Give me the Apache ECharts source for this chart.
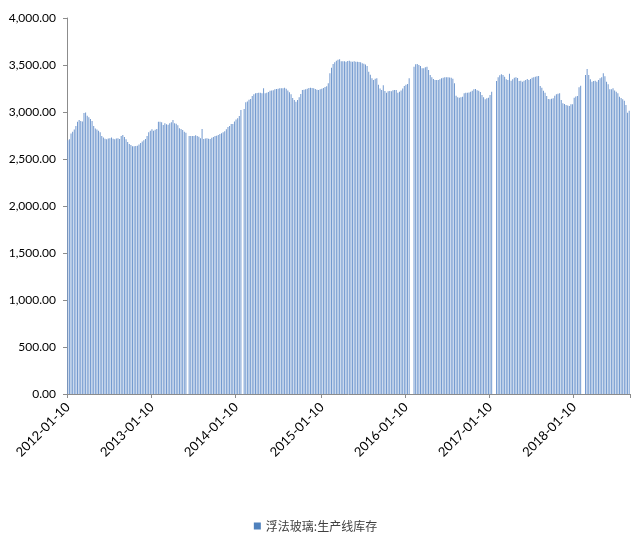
<!DOCTYPE html>
<html>
<head>
<meta charset="utf-8">
<script src="https://cdn.jsdelivr.net/npm/echarts@6/dist/echarts.min.js"></script>
<style>
html,body{margin:0;padding:0;background:#fff;}
#chart{width:631px;height:534px;}
</style>
</head>
<body>
<div id="chart"></div>
<script>
// Weekly observations starting 2012-01-10
const startDate = '2012-01-10';
const seriesName = '浮法玻璃:生产线库存';
const tickLabels = ['2012-01-10','2013-01-10','2014-01-10','2015-01-10','2016-01-10','2017-01-10','2018-01-10'];
const yTicks = [0, 500, 1000, 1500, 2000, 2500, 3000, 3500, 4000];

const values2012 = [2700,2710,2770,2790,2815,2850,2895,2915,2905,2900,2990,2995,2960,2945,2925,2905,2850,2825,2815,2800,2785,2745,2730,2715,2710,2718,2722,2730,2715,2709,2718,2720,2713,2745,2755,2735,2709,2680,2660,2649,2636,2635,2638,2640,2655,2670,2685,2700,2712,2745,2785,2800];
const values2013 = [2816,2801,2810,2820,2895,2897,2890,2862,2879,2870,2865,2879,2890,2915,2879,2875,2860,2826,2820,2809,2790,2780,null,2745,2745,2745,2745,2752,2745,2738,2720,2819,2713,2718,2720,2716,2713,2725,2735,2745,2748,2755,2766,2773,2785,2795,2816,2840,2851,2872,2872,2900];
const values2014 = [2920,2933,2957,3021,null,3032,3103,3113,3130,3138,3170,3190,3199,3203,3206,3206,3199,3252,3199,3205,3212,3227,3229,3231,3241,3245,3248,3252,3252,3252,3259,3248,3230,3210,3188,3150,3128,3110,3128,3156,3191,3234,3238,3241,3248,3255,3259,3256,3252,3245,3238,3234];
const values2015 = [3241,3248,3255,3265,3275,3305,3411,3470,3510,3528,3546,3555,3560,3539,3539,3540,3535,3542,3546,3538,3535,3539,3535,3535,3532,3528,3518,3513,3505,3489,3429,3395,3360,3340,3355,3358,3290,3250,3234,3284,3224,3206,3220,3224,3222,3231,3234,3234,3206,3216,3230,3250];
const values2016 = [3277,3291,3298,3358,null,null,3482,3507,3511,3500,3490,3465,3465,3475,3482,3447,3394,3369,3351,3340,3340,3340,3348,3358,3365,3369,3369,3369,3368,3365,3355,3305,3174,3156,3152,3158,3163,3199,3206,3206,3208,3215,3227,3241,3245,3232,3227,3213,3181,3156,3135,3145,3152];
const values2017 = [3181,3216,null,null,3330,3369,3390,3401,3394,3376,3348,3340,3408,3333,3348,3365,3369,3362,3330,3333,3323,3333,3340,3351,3340,3351,3365,3370,3376,3380,3383,3277,3259,3227,3205,3170,3138,3135,3140,3145,3174,3188,3195,3199,3128,3092,3085,3074,3068,3064,3082,3082];
const values2018 = [3152,3165,3170,3262,3280,null,null,3394,3457,3394,3348,3323,3330,3333,3323,3340,3358,3370,3411,3380,3323,3294,3241,3241,3252,3230,3216,3199,3163,3150,3135,3121,3074,2993,3014];

const values = [].concat(values2012, values2013, values2014, values2015, values2016, values2017, values2018);

// category dates (weekly)
function fmt(d){
  const m = String(d.getUTCMonth()+1).padStart(2,'0');
  const dd = String(d.getUTCDate()).padStart(2,'0');
  return d.getUTCFullYear()+'-'+m+'-'+dd;
}
const t0 = Date.parse(startDate+'T00:00:00Z');
const categories = values.map((v,i)=>fmt(new Date(t0 + i*7*86400000)));

// map each tick label to the nearest weekly category
const tickIndex = {};
tickLabels.forEach(lbl=>{
  const days = (Date.parse(lbl+'T00:00:00Z') - t0)/86400000;
  tickIndex[Math.round(days/7)] = lbl;
});

const chart = echarts.init(document.getElementById('chart'), null, {renderer:'canvas'});
const axisColor = '#8c8c8c';
const textColor = '#404040';
const font = 'Lato, "Noto Sans CJK SC", sans-serif';

chart.setOption({
  animation:false,
  backgroundColor:'#ffffff',
  grid:{left:67, right:1, top:18, bottom:140, containLabel:false},
  legend:{
    bottom:2, left:'center', padding:0,
    itemWidth:7, itemHeight:7, itemGap:4,
    icon:'rect',
    textStyle:{fontFamily:'"Noto Sans CJK SC", sans-serif', fontSize:12, color:textColor},
    itemStyle:{color:'#4f81bd'},
    data:[seriesName]
  },
  xAxis:{
    type:'category',
    data:categories,
    boundaryGap:true,
    axisLine:{show:true, lineStyle:{color:axisColor, width:1}},
    axisTick:{show:true, length:4, lineStyle:{color:axisColor},
      interval:(i)=>tickIndex.hasOwnProperty(i)},
    axisLabel:{
      interval:(i)=>tickIndex.hasOwnProperty(i),
      formatter:(val, i)=>tickIndex[i] || '',
      rotate:45, margin:11,
      fontFamily:font, fontSize:13, color:'#000000'
    },
    splitLine:{show:false}
  },
  yAxis:{
    type:'value',
    min:yTicks[0], max:yTicks[yTicks.length-1], interval:500,
    axisLine:{show:true, lineStyle:{color:axisColor, width:1}},
    axisTick:{show:true, length:4, lineStyle:{color:axisColor}},
    axisLabel:{
      margin:11, fontFamily:font, fontSize:12, color:'#000000',
      formatter:(v)=>v.toLocaleString('en-US',{minimumFractionDigits:2, maximumFractionDigits:2})
    },
    splitLine:{show:false}
  },
  series:[{
    name:seriesName,
    type:'bar',
    data:values,
    barWidth:'58%',
    itemStyle:{color:'#7299cf'},
    emphasis:{disabled:true}
  }]
});
</script>
</body>
</html>
